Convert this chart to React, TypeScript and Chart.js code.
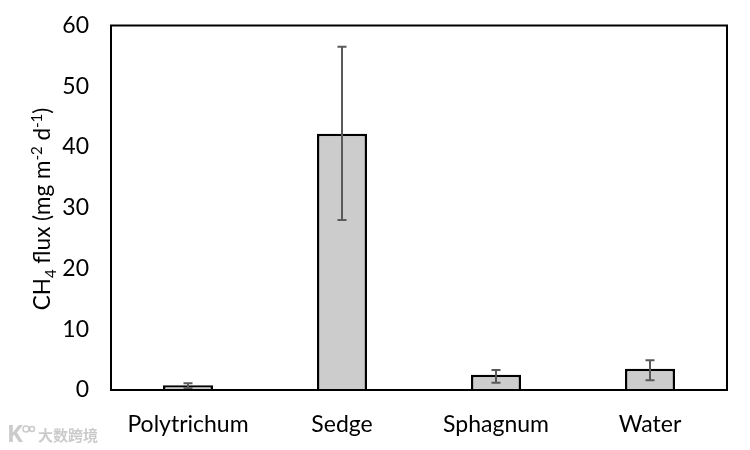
import React, { useEffect, useRef } from "react";
import { Chart, registerables } from "chart.js";

Chart.register(...registerables);

const categories = ["Polytrichum", "Sedge", "Sphagnum", "Water"];
const fluxValues = [0.8, 42.2, 2.5, 3.5];
const errorLow = [0.3, 28.0, 1.2, 1.6];
const errorHigh = [1.1, 56.5, 3.3, 4.9];
const FONT = "Lato, 'Noto Sans', sans-serif";

const extras = {
  id: "extras",
  afterDatasetsDraw(chart: any) {
    const { ctx, chartArea: a, scales } = chart;
    const x = scales.x, y = scales.y;
    ctx.save();
    ctx.strokeStyle = "#595959";
    ctx.lineWidth = 2;
    categories.forEach((_, i) => {
      const px = x.getPixelForValue(i);
      const hi = y.getPixelForValue(errorHigh[i]);
      const lo = y.getPixelForValue(errorLow[i]);
      ctx.beginPath();
      ctx.moveTo(px, hi); ctx.lineTo(px, lo);
      ctx.moveTo(px - 4.5, hi); ctx.lineTo(px + 4.5, hi);
      ctx.moveTo(px - 4.5, lo); ctx.lineTo(px + 4.5, lo);
      ctx.stroke();
    });
    ctx.strokeStyle = "#000";
    ctx.lineWidth = 2;
    ctx.strokeRect(a.left, a.top, a.right - a.left, a.bottom - a.top);
    ctx.restore();

    // Axis title with sub- and superscripts
    const parts: [string, number, number][] = [
      ["CH", 22.5, 0], ["4", 15, 6], [" flux (mg m", 22.5, 0], ["-2", 15, -8],
      [" d", 22.5, 0], ["-1", 15, -8], [")", 22.5, 0],
    ];
    ctx.save();
    ctx.fillStyle = "#000";
    ctx.textBaseline = "alphabetic";
    ctx.textAlign = "left";
    const widths = parts.map(([t, s]) => { ctx.font = `${s}px ${FONT}`; return ctx.measureText(t).width; });
    const total = widths.reduce((p, c) => p + c, 0);
    ctx.translate(50, 209);
    ctx.rotate(-Math.PI / 2);
    let cx = -total / 2;
    parts.forEach(([t, s, dy], i) => {
      ctx.font = `${s}px ${FONT}`;
      ctx.fillText(t, cx, dy);
      cx += widths[i];
    });
    ctx.restore();

    // Watermark
    ctx.save();
    ctx.fillStyle = "rgba(190,190,190,0.8)";
    ctx.font = "700 15px 'Noto Sans CJK SC'";
    ctx.textBaseline = "middle";
    ctx.fillText("大数跨境", 38, 435);
    ctx.font = "700 24px 'Open Sans', sans-serif";
    ctx.fillText("K", 7, 435);
    ctx.strokeStyle = "rgba(190,190,190,0.8)";
    ctx.lineWidth = 1.5;
    ctx.beginPath(); ctx.arc(26, 429, 3, 0, Math.PI * 2); ctx.stroke();
    ctx.beginPath(); ctx.arc(32, 429, 2.5, 0, Math.PI * 2); ctx.stroke();
    ctx.restore();
  },
};

export default function App() {
  const ref = useRef<HTMLCanvasElement>(null);
  useEffect(() => {
    const chart = new Chart(ref.current!, {
      type: "bar",
      data: {
        labels: categories,
        datasets: [{
          data: fluxValues,
          backgroundColor: "#cdcccc",
          borderColor: "#000",
          borderWidth: 2.5,
          categoryPercentage: 1,
          barPercentage: 0.325,
        }],
      },
      options: {
        animation: false,
        responsive: false,
        layout: { padding: { top: 25.5, right: 23, left: 0, bottom: 0 } },
        plugins: { legend: { display: false }, tooltip: { enabled: false } },
        scales: {
          x: {
            grid: { display: false },
            border: { display: false },
            ticks: { color: "#000", font: { family: FONT, size: 23 }, padding: 13, maxRotation: 0 },
            afterFit: (s: any) => { s.height = 60; s.paddingLeft = 0; s.paddingRight = 0; },
          },
          y: {
            min: 0, max: 60,
            grid: { display: false },
            border: { display: false },
            ticks: { stepSize: 10, color: "#000", font: { family: FONT, size: 23 }, padding: 14 },
            afterFit: (s: any) => { s.width = 111; s.paddingTop = 0; s.paddingBottom = 0; },
          },
        },
      },
      plugins: [extras],
    });
    return () => chart.destroy();
  }, []);
  return (
    <div style={{ position: "absolute", left: 0, top: 0, width: 750, height: 450, background: "#fff" }}>
      <canvas ref={ref} width={750} height={450} />
    </div>
  );
}
